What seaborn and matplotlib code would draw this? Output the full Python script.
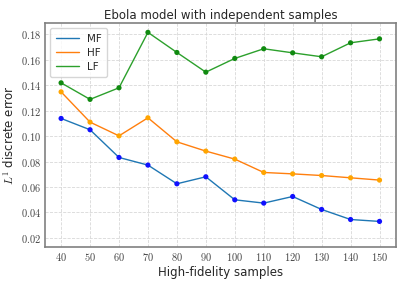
import numpy as np
import pandas as pd
import matplotlib
matplotlib.use("Agg")
import matplotlib.pyplot as plt
import seaborn as sns
from matplotlib.ticker import FuncFormatter, FixedLocator

samples = [40, 50, 60, 70, 80, 90, 100, 110, 120, 130, 140, 150]
mf = [0.1139, 0.1050, 0.0832, 0.0772, 0.0625, 0.0680, 0.0499, 0.0473, 0.0525, 0.0423, 0.0344, 0.0329]
hf = [0.1348, 0.1110, 0.1002, 0.1144, 0.0955, 0.0882, 0.0819, 0.0714, 0.0703, 0.0690, 0.0672, 0.0654]
lf = [0.1419, 0.1289, 0.1380, 0.1816, 0.1658, 0.1503, 0.1611, 0.1687, 0.1655, 0.1624, 0.1734, 0.1765]
series_names = ["MF", "HF", "LF"]
yticks = [0.02, 0.04, 0.06, 0.08, 0.10, 0.12, 0.14, 0.16, 0.18]

df = pd.DataFrame({
    "x": samples * 3,
    "y": mf + hf + lf,
    "series": [s for s in series_names for _ in samples],
})

sns.set_style("whitegrid")
plt.rcParams["font.family"] = ["DejaVu Sans"]
plt.rcParams["mathtext.fontset"] = "cm"

fig, ax = plt.subplots(figsize=(4.07, 2.85), dpi=100)
line_pal = {"MF": "#1f77b4", "HF": "#ff7f0e", "LF": "#2ca02c"}
mark_pal = {"MF": "#1010ff", "HF": "#ffa500", "LF": "#108a10"}
sns.lineplot(data=df, x="x", y="y", hue="series", palette=line_pal, ax=ax, linewidth=1.0)
sns.scatterplot(data=df, x="x", y="y", hue="series", palette=mark_pal, ax=ax,
                legend=False, s=14, edgecolor="none", zorder=3)

ax.set_xlim(34.5, 155.7)
ax.set_ylim(0.0127, 0.1889)
ax.xaxis.set_major_locator(FixedLocator(samples))
ax.yaxis.set_major_locator(FixedLocator(yticks))
ax.xaxis.set_major_formatter(FuncFormatter(lambda v, p: f"${int(round(v))}$"))
ax.yaxis.set_major_formatter(FuncFormatter(lambda v, p: f"${v:.2f}$"))
ax.tick_params(axis="both", labelsize=7.5, colors="#555555", length=0, pad=3)
for t in ax.get_xticklabels() + ax.get_yticklabels():
    t.set_color("#444444")

ax.grid(True, linestyle="--", linewidth=0.6, color="#d8d8d8")
for sp in ax.spines.values():
    sp.set_color("#808080")
    sp.set_linewidth(1.2)

ax.set_title("Ebola model with independent samples", fontsize=8.5, pad=3)
ax.set_xlabel("High-fidelity samples", fontsize=8.5, labelpad=2)
ax.set_ylabel(r"$L^1$ discrete error", fontsize=8.5, labelpad=3)

leg = ax.legend(loc="upper left", fontsize=7.5, frameon=True, title=None,
                handlelength=2.2, borderpad=0.5, labelspacing=0.4)
leg.get_frame().set_edgecolor("#cccccc")

fig.subplots_adjust(left=0.111, right=0.973, top=0.919, bottom=0.133)
fig.savefig("out.png", dpi=100)
